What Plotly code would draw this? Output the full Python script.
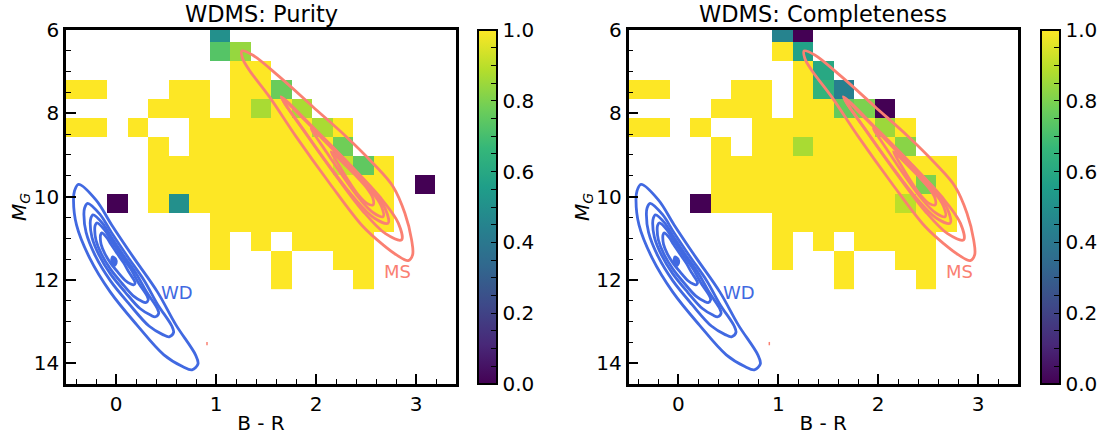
import plotly.graph_objects as go

N = None
# ---- bin grid (B-R edges and M_G edges, rows listed from top) ----
x_edges = [-0.5, -0.295, -0.089, 0.116, 0.321, 0.526, 0.732, 0.937, 1.142, 1.347,
           1.553, 1.758, 1.963, 2.168, 2.374, 2.579, 2.784, 2.989, 3.195, 3.4]
y_edges = [5.836, 6.292, 6.748, 7.204, 7.66, 8.116, 8.572, 9.028, 9.484, 9.94,
           10.396, 10.852, 11.308, 11.764, 12.22]

# ---- purity values per row (19 columns) ----
purity = [
    [N, N, N, N, N, N, N, 0.5, N, N, N, N, N, N, N, N, N, N, N],
    [N, N, N, N, N, N, N, 0.73, 0.84, N, N, N, N, N, N, N, N, N, N],
    [N, N, N, N, N, N, N, N, 1, 1, N, N, N, N, N, N, N, N, N],
    [1, 1, N, N, N, 1, 1, N, 1, 1, 0.77, N, N, N, N, N, N, N, N],
    [N, N, N, N, 1, 1, 1, N, 1, 0.87, 1, 0.87, N, N, N, N, N, N, N],
    [1, 1, N, 1, N, N, 1, 1, 1, 1, 1, 1, 0.87, 1, N, N, N, N, N],
    [N, N, N, N, 1, N, 1, 1, 1, 1, 1, 1, 1, 0.78, N, N, N, N, N],
    [N, N, N, N, 1, 1, 1, 1, 1, 1, 1, 1, 1, 0.92, 0.75, 1, N, N, N],
    [N, N, N, N, 1, 1, 1, 1, 1, 1, 1, 1, 1, 1, 1, 1, N, 0.0, N],
    [N, N, 0.0, N, 1, 0.5, 1, 1, 1, 1, 1, 1, 1, 1, 1, 1, N, N, N],
    [N, N, N, N, N, N, N, 1, 1, 1, 1, 1, 1, 1, 1, 1, N, N, N],
    [N, N, N, N, N, N, N, 1, N, 1, N, 1, 1, 1, 1, N, N, N, N],
    [N, N, N, N, N, N, N, 1, N, N, 1, N, N, 1, 1, N, N, N, N],
    [N, N, N, N, N, N, N, N, N, N, 1, N, N, N, 1, N, N, N, N],
]

# ---- completeness values per row ----
completeness = [
    [N, N, N, N, N, N, N, 0.45, 0.0, N, N, N, N, N, N, N, N, N, N],
    [N, N, N, N, N, N, N, 1, 0.57, N, N, N, N, N, N, N, N, N, N],
    [N, N, N, N, N, N, N, N, 1, 0.6, N, N, N, N, N, N, N, N, N],
    [1, 1, N, N, N, 1, 1, N, 1, 0.65, 0.43, N, N, N, N, N, N, N, N],
    [N, N, N, N, 1, 1, 1, N, 1, 1, 0.76, 0.8, 0.0, N, N, N, N, N, N],
    [1, 1, N, 1, N, N, 1, 1, 1, 1, 1, 1, 0.85, 1, N, N, N, N, N],
    [N, N, N, N, 1, N, 1, 1, 0.87, 1, 1, 1, 1, 0.82, N, N, N, N, N],
    [N, N, N, N, 1, 1, 1, 1, 1, 1, 1, 1, 1, 1, 1, 1, N, N, N],
    [N, N, N, N, 1, 1, 1, 1, 1, 1, 1, 1, 1, 1, 0.8, 1, N, N, N],
    [N, N, N, 0.0, 1, 1, 1, 1, 1, 1, 1, 1, 1, 0.9, 1, 1, N, N, N],
    [N, N, N, N, N, N, N, 1, 1, 1, 1, 1, 1, 1, 1, 1, N, N, N],
    [N, N, N, N, N, N, N, 1, N, 1, N, 1, 1, 1, 1, N, N, N, N],
    [N, N, N, N, N, N, N, 1, N, N, 1, N, N, 1, 1, N, N, N, N],
    [N, N, N, N, N, N, N, N, N, N, 1, N, N, N, 1, N, N, N, N],
]

# ---- WD density contours (B-R, M_G), outermost first ----
wd1_x = [-0.374, -0.201, -0.043, 0.178, 0.414, 0.599, 0.795, 0.820, 0.760, 0.670, 0.479, 0.208, -0.058, -0.264, -0.395, -0.425, -0.415, -0.374]
wd1_y = [9.708, 10.080, 10.680, 11.472, 12.288, 13.080, 13.800, 14.015, 14.159, 14.087, 13.800, 13.080, 12.288, 11.472, 10.680, 10.080, 9.864, 9.708]
wd2_x = [-0.284, -0.160, -0.046, 0.113, 0.283, 0.416, 0.558, 0.576, 0.532, 0.468, 0.330, 0.135, -0.057, -0.205, -0.299, -0.321, -0.314, -0.284]
wd2_y = [10.162, 10.429, 10.861, 11.432, 12.019, 12.589, 13.108, 13.263, 13.366, 13.314, 13.108, 12.589, 12.019, 11.432, 10.861, 10.429, 10.274, 10.162]
wd3_x = [-0.230, -0.134, -0.047, 0.074, 0.204, 0.306, 0.413, 0.427, 0.394, 0.345, 0.240, 0.091, -0.056, -0.169, -0.241, -0.258, -0.252, -0.230]
wd3_y = [10.437, 10.642, 10.972, 11.407, 11.856, 12.292, 12.688, 12.806, 12.885, 12.845, 12.688, 12.292, 11.856, 11.407, 10.972, 10.642, 10.523, 10.437]
wd4_x = [-0.191, -0.117, -0.049, 0.046, 0.148, 0.227, 0.312, 0.322, 0.297, 0.258, 0.176, 0.059, -0.055, -0.144, -0.200, -0.213, -0.209, -0.191]
wd4_y = [10.631, 10.791, 11.049, 11.390, 11.741, 12.081, 12.391, 12.483, 12.545, 12.514, 12.391, 12.081, 11.741, 11.390, 11.049, 10.791, 10.698, 10.631]
wd5_x = [-0.143, -0.094, -0.050, 0.012, 0.078, 0.130, 0.184, 0.191, 0.175, 0.149, 0.096, 0.020, -0.054, -0.112, -0.149, -0.157, -0.154, -0.143]
wd5_y = [10.874, 10.979, 11.147, 11.368, 11.597, 11.819, 12.020, 12.080, 12.121, 12.101, 12.020, 11.819, 11.597, 11.368, 11.147, 10.979, 10.918, 10.874]
wd6_x = [-0.035, 0.0, 0.005, -0.02, -0.042, -0.047, -0.035]
wd6_y = [11.44, 11.50, 11.60, 11.67, 11.60, 11.50, 11.44]

# ---- MS density contours ----
ms1_x = [1.259, 1.365, 1.633, 1.968, 2.303, 2.570, 2.771, 2.889, 2.956, 2.966, 2.922, 2.805, 2.671, 2.470, 2.136, 1.801, 1.533, 1.332, 1.265, 1.259]
ms1_y = [6.504, 6.600, 7.121, 7.841, 8.561, 9.199, 9.761, 10.399, 11.040, 11.400, 11.536, 11.400, 11.160, 10.720, 9.679, 8.561, 7.601, 6.960, 6.679, 6.504]
ms2_x = [1.651, 1.990, 2.320, 2.639, 2.823, 2.855, 2.695, 2.470, 2.186, 1.914, 1.651]
ms2_y = [7.601, 8.385, 9.187, 10.010, 10.636, 11.040, 10.891, 10.351, 9.456, 8.534, 7.601]
ms3_x = [1.664, 1.961, 2.252, 2.530, 2.692, 2.721, 2.581, 2.384, 2.134, 1.895, 1.664]
ms3_y = [7.656, 8.335, 9.029, 9.744, 10.288, 10.639, 10.514, 10.041, 9.268, 8.469, 7.656]
ms4_x = [1.952, 2.157, 2.355, 2.545, 2.654, 2.671, 2.573, 2.437, 2.267, 2.106, 1.952]
ms4_y = [8.359, 8.841, 9.336, 9.845, 10.231, 10.481, 10.389, 10.056, 9.504, 8.937, 8.359]
ms5_x = [2.153, 2.277, 2.397, 2.509, 2.569, 2.570, 2.505, 2.423, 2.326, 2.237, 2.153]
ms5_y = [8.921, 9.204, 9.497, 9.799, 10.036, 10.200, 10.157, 9.962, 9.626, 9.276, 8.921]
ms6_x = [0.91, 0.91]
ms6_y = [13.49, 13.57]

wd_label = ("WD", 0.61, 12.30)
ms_label = ("MS", 2.815, 11.80)
titles = ["WDMS: Purity", "WDMS: Completeness"]

WD_COLOR = "#4169e1"
MS_COLOR = "#fa8072"
FONT = "DejaVu Sans"
W, H = 1104, 437
TICK_SIZE = 20
LW = 2.8

fig = go.Figure()

panels = [
    dict(z=purity, xa="x", ya="y", dom=(66, 456), cb=478),
    dict(z=completeness, xa="x2", ya="y2", dom=(628.5, 1018), cb=1040.5),
]
plot_top, plot_bot = 30, 384
ydom = [(H - plot_bot) / H, (H - plot_top) / H]
ymid = (ydom[0] + ydom[1]) / 2
plen = plot_bot - plot_top

major_vals = [0, 0.2, 0.4, 0.6, 0.8, 1.0]
minor_vals = [i * 0.05 for i in range(21)]

for p in panels:
    fig.add_trace(go.Heatmap(
        x=x_edges, y=y_edges, z=p["z"], xaxis=p["xa"], yaxis=p["ya"],
        colorscale="Viridis", zmin=0, zmax=1, hoverinfo="skip",
        colorbar=dict(x=p["cb"] / W, xanchor="left", xpad=0, ypad=0,
                      y=ymid, yanchor="middle", len=plen, lenmode="pixels",
                      thickness=19, thicknessmode="pixels",
                      outlinewidth=2, outlinecolor="black",
                      ticks="inside", ticklen=16, tickwidth=1.5, tickcolor="black",
                      tickvals=major_vals, ticktext=["0.0", "0.2", "0.4", "0.6", "0.8", "1.0"],
                      tickfont=dict(size=TICK_SIZE, color="black", family=FONT)),
    ))
    # minor ticks on colorbar
    fig.add_trace(go.Scatter(
        x=[-5], y=[20], mode="markers", xaxis=p["xa"], yaxis=p["ya"], showlegend=False,
        hoverinfo="skip",
        marker=dict(color=[0.5], colorscale="Viridis", cmin=0, cmax=1, showscale=True, opacity=0,
                    colorbar=dict(x=p["cb"] / W, xanchor="left", xpad=0, ypad=0,
                                  y=ymid, yanchor="middle", len=plen, lenmode="pixels",
                                  thickness=19, thicknessmode="pixels",
                                  outlinewidth=2, outlinecolor="black",
                                  ticks="inside", ticklen=7, tickwidth=1.2, tickcolor="black",
                                  tickvals=minor_vals, showticklabels=False)),
    ))
    for xs, ys in [(wd1_x, wd1_y), (wd2_x, wd2_y), (wd3_x, wd3_y), (wd4_x, wd4_y), (wd5_x, wd5_y)]:
        fig.add_trace(go.Scatter(x=xs, y=ys, mode="lines", xaxis=p["xa"], yaxis=p["ya"],
                                 line=dict(color=WD_COLOR, width=LW, shape="spline", smoothing=1.0),
                                 showlegend=False, hoverinfo="skip"))
    fig.add_trace(go.Scatter(x=wd6_x, y=wd6_y, mode="lines", xaxis=p["xa"], yaxis=p["ya"],
                             fill="toself", fillcolor=WD_COLOR,
                             line=dict(color=WD_COLOR, width=2, shape="spline"),
                             showlegend=False, hoverinfo="skip"))
    for xs, ys in [(ms1_x, ms1_y), (ms2_x, ms2_y), (ms3_x, ms3_y), (ms4_x, ms4_y), (ms5_x, ms5_y)]:
        fig.add_trace(go.Scatter(x=xs, y=ys, mode="lines", xaxis=p["xa"], yaxis=p["ya"],
                                 line=dict(color=MS_COLOR, width=LW, shape="spline", smoothing=1.0),
                                 showlegend=False, hoverinfo="skip"))
    fig.add_trace(go.Scatter(x=ms6_x, y=ms6_y, mode="lines", xaxis=p["xa"], yaxis=p["ya"],
                             line=dict(color=MS_COLOR, width=1.5),
                             showlegend=False, hoverinfo="skip"))
    for txt, tx, ty, col in [(wd_label[0], wd_label[1], wd_label[2], WD_COLOR),
                             (ms_label[0], ms_label[1], ms_label[2], MS_COLOR)]:
        fig.add_annotation(x=tx, y=ty, xref=p["xa"], yref=p["ya"], text=txt, showarrow=False,
                           font=dict(size=18, color=col, family=FONT))

axis_common = dict(showline=True, linewidth=2.5, linecolor="black", mirror=True,
                   showgrid=False, zeroline=False, ticks="inside", ticklen=10, tickwidth=1.5,
                   tickcolor="black", tickfont=dict(size=TICK_SIZE, color="black", family=FONT))

for i, p in enumerate(panels):
    sfx = "" if i == 0 else str(i + 1)
    fig.update_layout(**{
        "xaxis" + sfx: dict(axis_common, domain=[p["dom"][0] / W, p["dom"][1] / W],
                            range=[-0.5, 3.4], tickvals=[0, 1, 2, 3], anchor="y" + sfx,
                            minor=dict(ticks="inside", ticklen=5, tickwidth=1.2, tickcolor="black",
                                       tickmode="linear", tick0=0, dtick=0.2),
                            title=dict(text="B - R", font=dict(size=20, color="black", family=FONT),
                                       standoff=2)),
        "yaxis" + sfx: dict(axis_common, domain=ydom, range=[14.5, 6], tickvals=[6, 8, 10, 12, 14],
                            anchor="x" + sfx,
                            minor=dict(ticks="inside", ticklen=5, tickwidth=1.2, tickcolor="black",
                                       tickmode="linear", tick0=6, dtick=0.5),
                            title=dict(text="<i>M</i><sub><i>G</i></sub>",
                                       font=dict(size=20, color="black", family=FONT), standoff=2)),
    })
    fig.add_annotation(x=(p["dom"][0] + p["dom"][1]) / 2 / W, y=1 - 14 / H, xref="paper", yref="paper",
                       text=titles[i], showarrow=False, xanchor="center", yanchor="middle",
                       font=dict(size=22.5, color="black", family=FONT))

fig.update_layout(width=W, height=H, margin=dict(l=0, r=0, t=0, b=0, autoexpand=False),
                  paper_bgcolor="white", plot_bgcolor="white",
                  font=dict(family=FONT, color="black"), showlegend=False)

fig.write_html("out.html")
